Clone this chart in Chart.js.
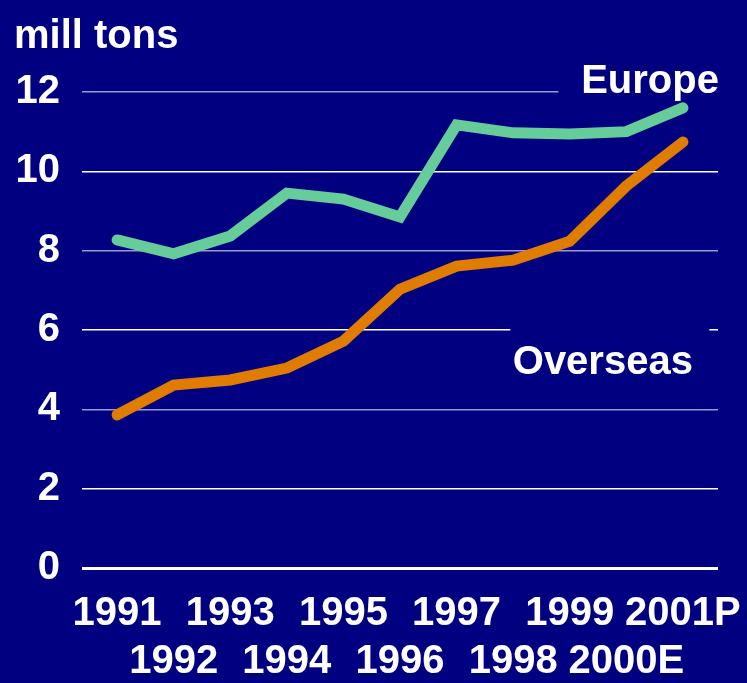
<!DOCTYPE html>
<html>
<head>
<meta charset="utf-8">
<script src="https://cdn.jsdelivr.net/npm/chart.js@4"></script>
<style>
  html, body { margin: 0; padding: 0; background: #000080; }
  #wrap { width: 747px; height: 683px; position: relative; }
</style>
</head>
<body>
<div id="wrap"><canvas id="c"></canvas></div>
<script>
const years = ['1991','1992','1993','1994','1995','1996','1997','1998','1999','2000E','2001P'];
const europe = [8.27, 7.92, 8.37, 9.45, 9.30, 8.85, 11.17, 10.97, 10.94, 11.00, 11.60];
const overseas = [3.86, 4.61, 4.74, 5.04, 5.72, 7.03, 7.61, 7.76, 8.24, 9.63, 10.74];
const yTicks = [0, 2, 4, 6, 8, 10, 12];
const seriesNames = ['Europe', 'Overseas'];
const unitTitle = 'mill tons';

const BG = '#000080';
const FONT = '"Liberation Sans", Arial, Helvetica, sans-serif';

const bgPlugin = {
  id: 'bg',
  beforeDraw(chart) {
    const ctx = chart.ctx;
    ctx.save();
    ctx.fillStyle = BG;
    ctx.fillRect(0, 0, chart.width, chart.height);
    ctx.restore();
  }
};

const labelPlugin = {
  id: 'seriesLabels',
  beforeDatasetsDraw(chart) {
    const ctx = chart.ctx;
    const x = chart.scales.x, y = chart.scales.y;
    ctx.save();
    ctx.fillStyle = BG;
    // box behind "Europe" (hides end of 12 gridline)
    ctx.fillRect(x.getPixelForValue(7.8), y.getPixelForValue(12.6), chart.width, 40);
    // box behind "Overseas" (hides part of 6 gridline)
    ctx.fillRect(x.getPixelForValue(6.95), y.getPixelForValue(6.25), 199, 70);
    ctx.restore();
  },
  afterDatasetsDraw(chart) {
    const ctx = chart.ctx;
    const x = chart.scales.x, y = chart.scales.y;
    ctx.save();
    ctx.fillStyle = '#ffffff';
    ctx.font = 'bold 40px ' + FONT;
    ctx.textBaseline = 'alphabetic';
    ctx.textAlign = 'right';
    ctx.fillText(seriesNames[0], x.getPixelForValue(10) + 36, y.getPixelForValue(12) + 1);
    ctx.fillText(seriesNames[1], x.getPixelForValue(10) + 10, y.getPixelForValue(4.92) + 1);
    ctx.restore();
  }
};

new Chart(document.getElementById('c'), {
  type: 'line',
  data: {
    datasets: [
      {
        label: seriesNames[0],
        data: europe.map((v, i) => ({ x: i, y: v })),
        borderColor: '#66CC99',
        borderWidth: 11,
        borderCapStyle: 'round',
        borderJoinStyle: 'miter',
        pointRadius: 0,
        tension: 0,
        fill: false
      },
      {
        label: seriesNames[1],
        data: overseas.map((v, i) => ({ x: i, y: v })),
        borderColor: '#E07C00',
        borderWidth: 11,
        borderCapStyle: 'round',
        borderJoinStyle: 'miter',
        pointRadius: 0,
        tension: 0,
        fill: false
      }
    ]
  },
  options: {
    responsive: true,
    maintainAspectRatio: false,
    animation: false,
    devicePixelRatio: 1,
    layout: { padding: { left: 14, right: 29, top: 0, bottom: 0 } },
    plugins: {
      legend: { display: false },
      tooltip: { enabled: false },
      title: {
        display: true,
        text: unitTitle,
        align: 'start',
        color: '#ffffff',
        font: { family: FONT, size: 40, weight: 'bold', lineHeight: 1.2 },
        padding: { top: 13, bottom: 31 }
      }
    },
    scales: {
      x: {
        type: 'linear',
        min: -0.62,
        max: 10.62,
        afterBuildTicks(scale) {
          scale.ticks = years.map((_, i) => ({ value: i }));
        },
        afterFit(scale) {
          scale.height = 115;
          scale.paddingLeft = 0;
          scale.paddingRight = 0;
        },
        grid: { display: false, drawTicks: false },
        border: { display: false },
        ticks: {
          autoSkip: false,
          maxRotation: 0,
          minRotation: 0,
          padding: 22,
          color: '#ffffff',
          font: { family: FONT, size: 40, weight: 'bold', lineHeight: 1.2 },
          callback(value) {
            const i = Math.round(value);
            return i % 2 === 0 ? [years[i]] : ['', years[i]];
          }
        }
      },
      y: {
        min: 0,
        max: 12,
        afterBuildTicks(scale) {
          scale.ticks = yTicks.map(v => ({ value: v }));
        },
        afterFit(scale) { scale.width = 68; },
        border: { display: false },
        grid: {
          drawTicks: false,
          color(ctx) {
            const v = ctx.tick ? ctx.tick.value : 0;
            return (v === 4 || v === 8 || v === 12) ? '#9a9acc' : '#ffffff';
          },
          lineWidth(ctx) {
            const v = ctx.tick ? ctx.tick.value : 0;
            return v === 0 ? 3 : 1.5;
          }
        },
        ticks: {
          padding: 22,
          color: '#ffffff',
          font: { family: FONT, size: 40, weight: 'bold' }
        }
      }
    }
  },
  plugins: [bgPlugin, labelPlugin]
});
</script>
</body>
</html>
